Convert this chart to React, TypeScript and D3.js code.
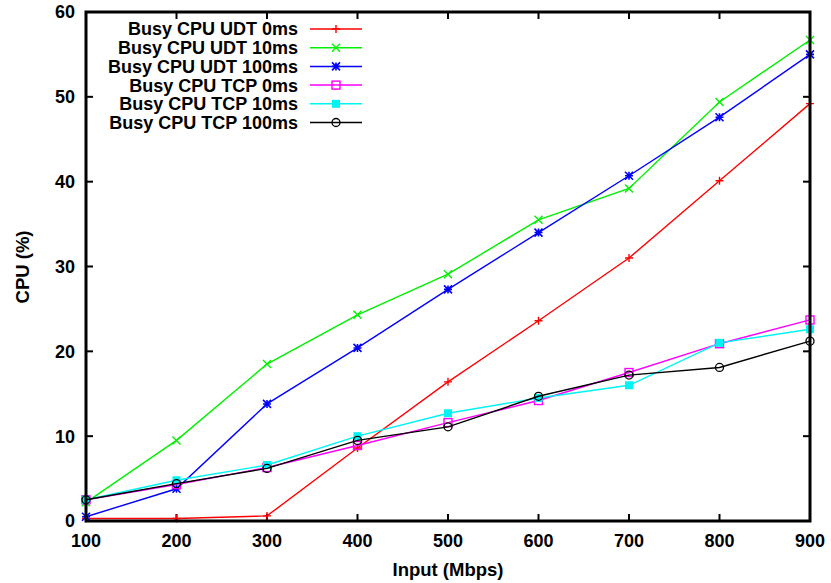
import * as d3 from 'd3';

const inputs = [100, 200, 300, 400, 500, 600, 700, 800, 900];

const udt0 = [0.3, 0.3, 0.6, 8.6, 16.4, 23.6, 31.0, 40.1, 49.2];
const udt10 = [2.2, 9.5, 18.5, 24.3, 29.1, 35.5, 39.2, 49.4, 56.7];
const udt100 = [0.5, 3.8, 13.8, 20.4, 27.3, 34.0, 40.7, 47.6, 55.0];
const tcp0 = [2.5, 4.3, 6.3, 8.9, 11.6, 14.2, 17.5, 20.9, 23.7];
const tcp10 = [2.5, 4.8, 6.6, 10.0, 12.7, 14.5, 16.0, 21.0, 22.6];
const tcp100 = [2.5, 4.4, 6.2, 9.5, 11.1, 14.7, 17.2, 18.1, 21.2];

const xTicks = [100, 200, 300, 400, 500, 600, 700, 800, 900];
const yTicks = [0, 10, 20, 30, 40, 50, 60];

type Marker = 'plus' | 'cross' | 'star' | 'square' | 'filledSquare' | 'circle';

const series: { name: string; values: number[]; color: string; marker: Marker }[] = [
  { name: 'Busy CPU UDT 0ms', values: udt0, color: '#ff0000', marker: 'plus' },
  { name: 'Busy CPU UDT 10ms', values: udt10, color: '#00f000', marker: 'cross' },
  { name: 'Busy CPU UDT 100ms', values: udt100, color: '#0000ff', marker: 'star' },
  { name: 'Busy CPU TCP 0ms', values: tcp0, color: '#ff00ff', marker: 'square' },
  { name: 'Busy CPU TCP 10ms', values: tcp10, color: '#00f4f4', marker: 'filledSquare' },
  { name: 'Busy CPU TCP 100ms', values: tcp100, color: '#000000', marker: 'circle' },
];

const width = 831;
const height = 583;
const margin = { top: 12, right: 21, bottom: 62, left: 86 };
const font = '"Liberation Sans", Arial, sans-serif';

function MarkerShape({ type, x, y, color }: { type: Marker; x: number; y: number; color: string }) {
  const s = 4;
  switch (type) {
    case 'plus':
      return <path d={`M${x - s},${y}H${x + s}M${x},${y - s}V${y + s}`} stroke={color} strokeWidth={1.4} fill="none" />;
    case 'cross':
      return <path d={`M${x - s},${y - s}L${x + s},${y + s}M${x - s},${y + s}L${x + s},${y - s}`} stroke={color} strokeWidth={1.4} fill="none" />;
    case 'star':
      return (
        <path
          d={`M${x - s},${y}H${x + s}M${x},${y - s}V${y + s}M${x - s},${y - s}L${x + s},${y + s}M${x - s},${y + s}L${x + s},${y - s}`}
          stroke={color}
          strokeWidth={1.6}
          fill="none"
        />
      );
    case 'square':
      return <rect x={x - s} y={y - s} width={2 * s} height={2 * s} stroke={color} strokeWidth={1.4} fill="none" />;
    case 'filledSquare':
      return <rect x={x - s} y={y - s} width={2 * s} height={2 * s} fill={color} />;
    case 'circle':
      return <circle cx={x} cy={y} r={s} stroke={color} strokeWidth={1.3} fill="none" />;
  }
}

export default function App() {
  const x = d3.scaleLinear().domain([100, 900]).range([margin.left, width - margin.right]);
  const y = d3.scaleLinear().domain([0, 60]).range([height - margin.bottom, margin.top]);
  const line = d3
    .line<number>()
    .x((_, i) => x(inputs[i]))
    .y((d) => y(d));

  const x0 = x.range()[0];
  const x1 = x.range()[1];
  const y0 = y.range()[0];
  const y1 = y.range()[1];
  const tick = 7;

  return (
    <svg width={width} height={height} style={{ position: 'absolute', left: 0, top: 0, background: '#fff' }} fontFamily={font}>
      {/* ticks, mirrored on all four sides */}
      {xTicks.map((t) => (
        <g key={`xt${t}`}>
          <line x1={x(t)} x2={x(t)} y1={y0} y2={y0 - tick} stroke="#000" strokeWidth={2} />
          <line x1={x(t)} x2={x(t)} y1={y1} y2={y1 + tick} stroke="#000" strokeWidth={2} />
          <text x={x(t)} y={547} textAnchor="middle" fontSize={18} fontWeight="bold">
            {t}
          </text>
        </g>
      ))}
      {yTicks.map((t) => (
        <g key={`yt${t}`}>
          <line x1={x0} x2={x0 + tick} y1={y(t)} y2={y(t)} stroke="#000" strokeWidth={2} />
          <line x1={x1} x2={x1 - tick} y1={y(t)} y2={y(t)} stroke="#000" strokeWidth={2} />
          <text x={75} y={y(t)} dy="0.36em" textAnchor="end" fontSize={18} fontWeight="bold">
            {t}
          </text>
        </g>
      ))}

      {/* series */}
      {series.map((s) => (
        <g key={s.name}>
          <path d={line(s.values) ?? ''} fill="none" stroke={s.color} strokeWidth={1.4} />
          {s.values.map((v, i) => (
            <MarkerShape key={i} type={s.marker} x={x(inputs[i])} y={y(v)} color={s.color} />
          ))}
        </g>
      ))}

      {/* border */}
      <rect x={x0} y={y1} width={x1 - x0} height={y0 - y1} fill="none" stroke="#000" strokeWidth={3} />

      {/* legend */}
      {series.map((s, i) => {
        const ly = 29 + i * 18.7;
        return (
          <g key={`lg${s.name}`}>
            <text x={298} y={ly} dy="0.36em" textAnchor="end" fontSize={18} fontWeight="bold">
              {s.name}
            </text>
            <line x1={310} x2={362} y1={ly} y2={ly} stroke={s.color} strokeWidth={1.5} />
            <MarkerShape type={s.marker} x={336} y={ly} color={s.color} />
          </g>
        );
      })}

      {/* axis titles */}
      <text x={448} y={576} textAnchor="middle" fontSize={18.5} fontWeight="bold">
        Input (Mbps)
      </text>
      <text transform="translate(29,267) rotate(-90)" textAnchor="middle" fontSize={18.5} fontWeight="bold">
        CPU (%)
      </text>
    </svg>
  );
}
